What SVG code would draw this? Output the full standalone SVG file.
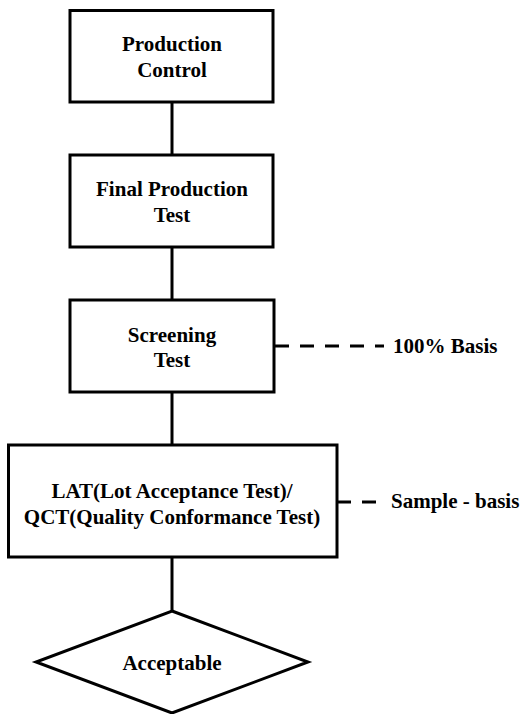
<svg xmlns="http://www.w3.org/2000/svg" width="524" height="714" viewBox="0 0 524 714">
  <style>
    .box { fill: #ffffff; stroke: #000000; stroke-width: 3; stroke-linejoin: miter; }
    .link { fill: none; stroke: #000000; stroke-width: 3; }
    .dash { fill: none; stroke: #000000; stroke-width: 3; stroke-dasharray: 14 11; }
    .lbl { font-family: "Liberation Serif", "Times New Roman", serif; font-weight: bold; font-size: 21px; fill: #000000; }
    .mid { text-anchor: middle; }
  </style>
  <rect x="0" y="0" width="524" height="714" fill="#ffffff"/>

  <!-- flow connectors and side notes -->
  <g id="connectors">
    <line class="link" x1="172" y1="102" x2="172" y2="155"/>
    <line class="link" x1="172" y1="247" x2="172" y2="300"/>
    <line class="link" x1="172" y1="392" x2="172" y2="445"/>
    <line class="link" x1="172" y1="557" x2="172" y2="611"/>
    <line class="dash" x1="275" y1="346" x2="384" y2="346"/>
    <line class="dash" x1="337" y1="502" x2="377" y2="502"/>
  </g>

  <g id="production-control">
    <rect class="box" x="70" y="10.5" width="203" height="91.5"/>
    <text class="lbl mid" x="172" y="51">Production</text>
    <text class="lbl mid" x="172" y="77">Control</text>
  </g>

  <g id="final-production-test">
    <rect class="box" x="70" y="155" width="203" height="92"/>
    <text class="lbl mid" x="172" y="196">Final Production</text>
    <text class="lbl mid" x="172" y="222">Test</text>
  </g>

  <g id="screening-test">
    <rect class="box" x="70" y="300" width="204" height="92"/>
    <text class="lbl mid" x="172" y="342">Screening</text>
    <text class="lbl mid" x="172" y="367">Test</text>
  </g>

  <g id="lat-qct">
    <rect class="box" x="8.5" y="445" width="328.5" height="112"/>
    <text class="lbl mid" x="172" y="498">LAT(Lot Acceptance Test)/</text>
    <text class="lbl mid" x="172" y="524">QCT(Quality Conformance Test)</text>
  </g>

  <g id="acceptable">
    <polygon class="box" points="172,611 308,662 172,713 36,662"/>
    <text class="lbl mid" x="172" y="670">Acceptable</text>
  </g>

  <g id="note-100">
    <text class="lbl" x="393" y="353">100% Basis</text>
  </g>

  <g id="note-sample">
    <text class="lbl" x="391" y="508">Sample - basis</text>
  </g>
</svg>
